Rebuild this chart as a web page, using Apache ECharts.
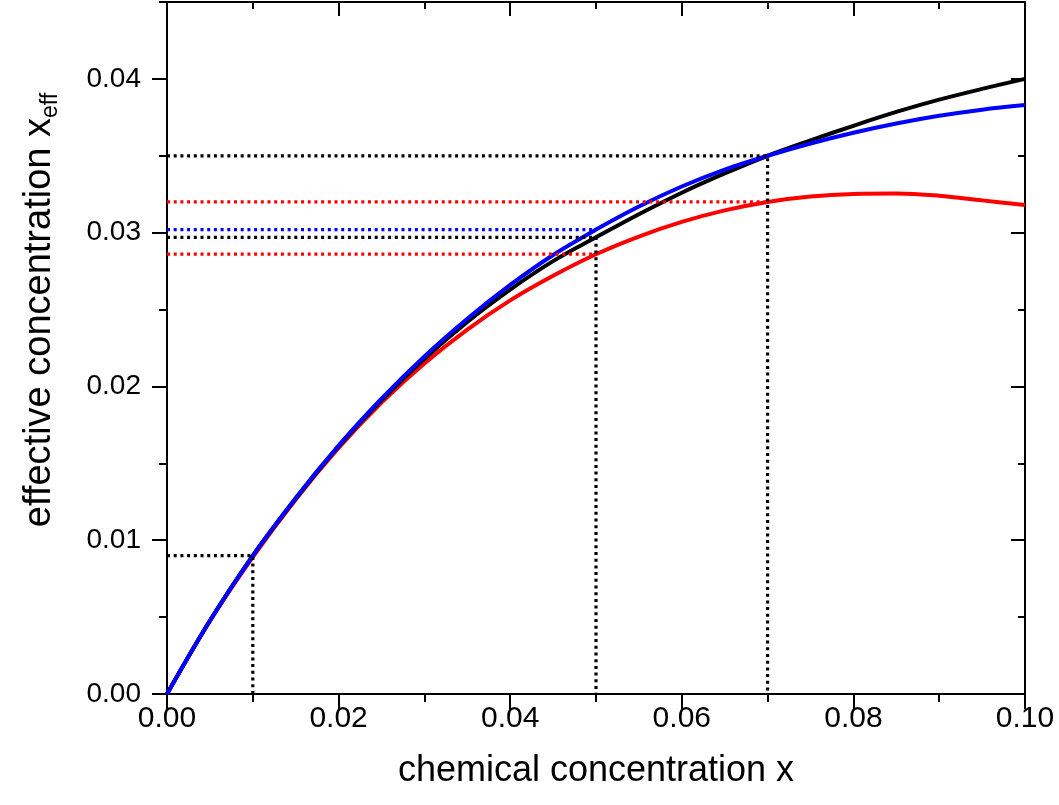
<!DOCTYPE html>
<html>
<head>
<meta charset="utf-8">
<script src="https://cdn.jsdelivr.net/npm/echarts@6/dist/echarts.min.js"></script>
<style>html,body{margin:0;padding:0;background:#fff;}#c{width:1059px;height:805px;}</style>
</head>
<body>
<div id="c"></div>
<script>
// chemical concentration x
const xs = [0, 0.005, 0.01, 0.015, 0.02, 0.025, 0.03, 0.035, 0.04, 0.045, 0.05, 0.055, 0.06, 0.065, 0.07, 0.075, 0.08, 0.085, 0.09, 0.095, 0.1];
// effective concentration curves
const blueY  = [0, 0.00477, 0.0090, 0.01275, 0.01615, 0.0192, 0.02195, 0.0244, 0.0266, 0.02855, 0.0302, 0.0317, 0.0330, 0.0341, 0.0350, 0.0358, 0.0365, 0.0371, 0.0376, 0.0380, 0.0383];
const blackY = [0, 0.00476, 0.0090, 0.0127, 0.0161, 0.0191, 0.0218, 0.0242, 0.0263, 0.02815, 0.0297, 0.0312, 0.0326, 0.03385, 0.0350, 0.0360, 0.03695, 0.03785, 0.03865, 0.03935, 0.0400];
const redY   = [0, 0.00475, 0.0089, 0.01265, 0.0160, 0.01895, 0.0215, 0.0237, 0.0256, 0.0272, 0.0286, 0.02975, 0.0307, 0.03145, 0.0320, 0.03235, 0.03252, 0.03255, 0.0324, 0.0321, 0.0318];
// dotted guide lines
const guideBlackA = [[0, 0.035], [0.07, 0.035], [0.07, 0]];
const guideRedA   = [[0, 0.032], [0.07, 0.032]];
const guideBlue   = [[0, 0.0302], [0.05, 0.0302]];
const guideBlackB = [[0, 0.0297], [0.05, 0.0297], [0.05, 0]];
const guideRedB   = [[0, 0.0286], [0.05, 0.0286]];
const guideBlackC = [[0, 0.009], [0.01, 0.009], [0.01, 0]];
// ticks
const yMajorTicks = [0, 0.01, 0.02, 0.03, 0.04];
const yMinorTicks = [0.005, 0.015, 0.025, 0.035, 0.045];
const xTitle = 'chemical concentration x';
const yTitleMain = 'effective concentration x';
const yTitleSub = 'eff';

const FONT = '"Liberation Sans", Arial, sans-serif';
const pair = (xArr, yArr) => xArr.map((x, i) => [x, yArr[i]]);

const axisLineStyle = { show: true, onZero: false, lineStyle: { color: '#000', width: 2 } };
const tickStyle = { color: '#000', width: 2 };

function xAx(pos, inside, showLabel) {
  return {
    type: 'value', position: pos, min: 0, max: 0.1, interval: 0.02,
    axisLine: axisLineStyle,
    axisTick: { show: true, inside: inside, length: inside ? 14 : 15, lineStyle: tickStyle },
    minorTick: { show: true, splitNumber: 2, length: inside ? 7 : 8, lineStyle: tickStyle },
    splitLine: { show: false }, minorSplitLine: { show: false },
    axisLabel: { show: showLabel, formatter: v => v.toFixed(2), fontSize: 30, color: '#000', fontFamily: FONT, margin: 10 },
    name: showLabel ? xTitle : '',
    nameLocation: 'middle', nameGap: 59,
    nameTextStyle: { fontSize: 36, color: '#000', fontFamily: FONT }
  };
}
function yAx(pos, inside, major, withLabel) {
  const o = {
    type: 'value', position: pos, min: 0, max: 0.045,
    axisLine: axisLineStyle,
    axisTick: { show: true, inside: inside, length: major ? (inside ? 14 : 15) : (inside ? 7 : 8), lineStyle: tickStyle,
                customValues: major ? yMajorTicks : yMinorTicks },
    splitLine: { show: false },
    axisLabel: { show: withLabel, formatter: v => v.toFixed(2), fontSize: 28, color: '#000', fontFamily: FONT, margin: 26,
                 customValues: yMajorTicks }
  };
  if (withLabel) {
    o.name = '{m|' + yTitleMain + '}{s|' + yTitleSub + '}';
    o.nameLocation = 'middle';
    o.nameGap = 105;
    o.nameRotate = 90;
    o.nameTextStyle = {
      color: '#000', fontFamily: FONT, padding: [0, 0, 0, 76],
      rich: {
        m: { fontSize: 38, lineHeight: 44, color: '#000', fontFamily: FONT },
        s: { fontSize: 23, lineHeight: 23, color: '#000', fontFamily: FONT, verticalAlign: 'bottom', padding: [8, 0, 0, 0] }
      }
    };
  }
  return o;
}

const curve = (data, color) => ({
  type: 'line', data: data, showSymbol: false, smooth: 0.35,
  lineStyle: { color: color, width: 4 }, z: 2, silent: true
});
const guide = (data, color) => ({
  type: 'line', data: data, showSymbol: false, smooth: false,
  lineStyle: { color: color, width: 3.2, type: [3, 3.7] }, z: 3, silent: true
});

const chart = echarts.init(document.getElementById('c'), null, { renderer: 'canvas' });
chart.setOption({
  animation: false,
  backgroundColor: '#fff',
  grid: { left: 167, right: 34, top: 2, bottom: 111 },
  xAxis: [xAx('bottom', false, true), xAx('top', true, false)],
  yAxis: [yAx('left', false, true, true), yAx('left', false, false, false), yAx('right', true, true, false), yAx('right', true, false, false)],
  series: [
    curve(pair(xs, redY), '#ff0000'),
    curve(pair(xs, blackY), '#000000'),
    curve(pair(xs, blueY), '#0000ff'),
    guide(guideBlackA, '#000000'),
    guide(guideRedA, '#ff0000'),
    guide(guideBlue, '#0000ff'),
    guide(guideBlackB, '#000000'),
    guide(guideRedB, '#ff0000'),
    guide(guideBlackC, '#000000')
  ]
});
</script>
</body>
</html>
